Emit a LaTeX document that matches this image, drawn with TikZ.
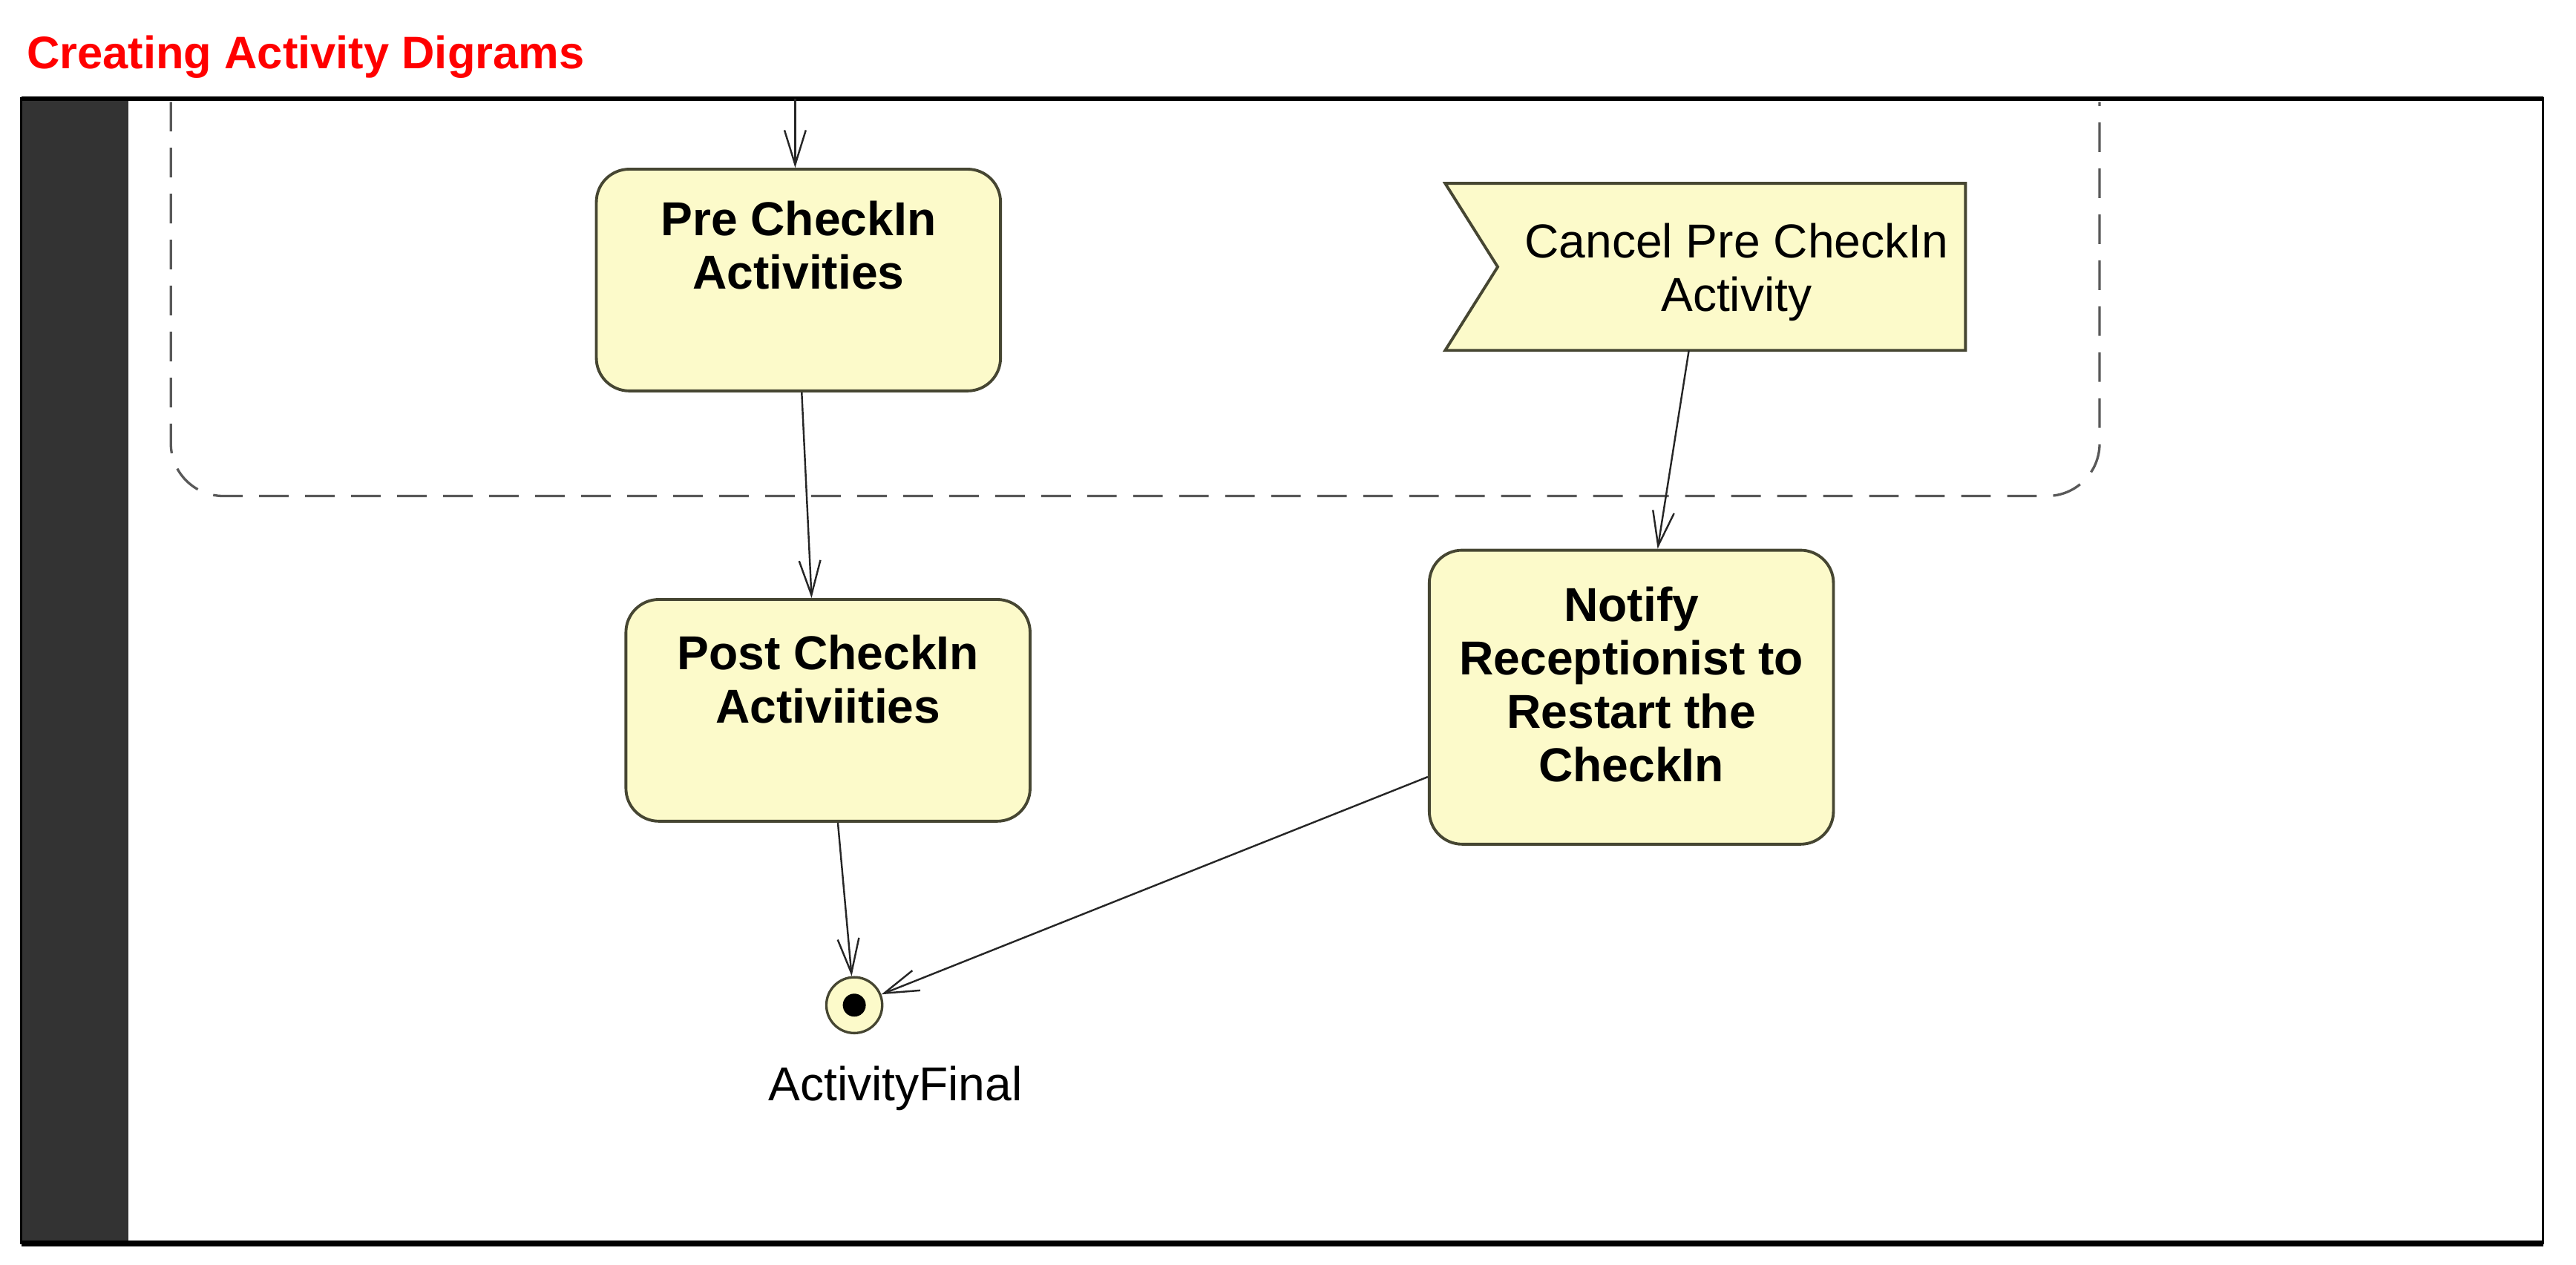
\documentclass[tikz,border=0pt]{standalone}
\usepackage{fontspec}
\setmainfont{Liberation Sans}
\usetikzlibrary{arrows.meta,positioning,backgrounds}

\definecolor{actfill}{RGB}{252,250,202}
\definecolor{actline}{RGB}{70,70,50}
\definecolor{barcol}{RGB}{51,51,51}

\tikzset{
  actbox/.style={draw=actline, fill=actfill, line width=0.35mm, rounded corners=4mm, minimum width=49.2mm},
  boxtxt/.style={font=\bfseries\fontsize{16.5}{18.5}\selectfont, align=center, inner sep=0pt},
  evttxt/.style={font=\fontsize{16.5}{18.5}\selectfont, align=center, inner sep=0pt},
  evtshape/.style={draw=actline, fill=actfill, line width=0.35mm},
  region/.style={dash pattern=on 3.6mm off 2mm, draw=black!65, line width=0.3mm},
  flow/.style={-{Straight Barb[length=4.2mm,width=2.6mm]}, line width=0.22mm, draw=black!85},
  finalnode/.style={circle, draw=actline, fill=actfill, line width=0.3mm, minimum size=6.8mm, inner sep=0pt,
    path picture={\fill[black] (path picture bounding box.center) circle (1.4mm);}},
}

\begin{document}
\begin{tikzpicture}[x=0.2mm,y=-0.2mm]
  \useasboundingbox (0,0) rectangle (1568,770);

  % Title
  \node[anchor=base west, inner sep=0pt, text=red, font=\bfseries\fontsize{15.8}{18}\selectfont] (title) at (16,42) {Creating Activity Digrams};

  % Frame with dark side bar
  \fill[barcol] (13,60) rectangle (78,757);
  \draw[line width=0.3mm] (13,60) rectangle (1548,757);
  \draw[line width=0.5mm] (13,60) -- (1548,60);
  \draw[line width=0.7mm] (13,757) -- (1548,757);

  % Interruptible region
  \draw[region, rounded corners=6.4mm] (104,62) -- (104,302) -- (1278,302) -- (1278,62);

  % Actions
  \node[actbox, minimum height=27mm] (pre) at (486,170.5) {};
  \node[boxtxt, below=4mm of pre.north] (pretxt) {Pre CheckIn\\Activities};

  \node[actbox, minimum height=27mm] (post) at (504,432.5) {};
  \node[boxtxt, below=4.4mm of post.north] (posttxt) {Post CheckIn\\Activiities};

  \node[actbox, minimum height=35.8mm] (notify) at (993,424.5) {};
  \node[boxtxt, below=4.6mm of notify.north] (notifytxt) {Notify\\Receptionist to\\Restart the\\CheckIn};

  % Accept event
  \node[minimum width=56.8mm, minimum height=20.2mm, inner sep=0pt] (cancel) at (1054,162.5) {};
  \node[evttxt, below=4.8mm of cancel.north, xshift=0.6mm] (canceltxt) {Cancel Pre CheckIn\\Activity};
  \begin{scope}[on background layer]
    \filldraw[evtshape] ([xshift=-6.4mm]cancel.north west) -- (cancel.north east) -- (cancel.south east)
      -- ([xshift=-6.4mm]cancel.south west) -- (cancel.west) -- cycle;
  \end{scope}

  % Final node
  \node[finalnode] (final) at (520,612) {};
  \node[evttxt, below=3.8mm of final, xshift=5mm] (finallbl) {ActivityFinal};

  % Flows
  \coordinate (entry) at (484,60);
  \draw[flow] (entry) -- (entry |- pre.north);
  \draw[flow] ([xshift=0.4mm]pre.south) -- ([xshift=-2mm]post.north);
  \draw[flow] ([xshift=-5.2mm]cancel.south) -- ([xshift=3.2mm]notify.north);
  \draw[flow] ([xshift=1.2mm]post.south) -- (final);
  \draw[flow] ([yshift=-9.7mm]notify.west) -- (final);
\end{tikzpicture}
\end{document}
